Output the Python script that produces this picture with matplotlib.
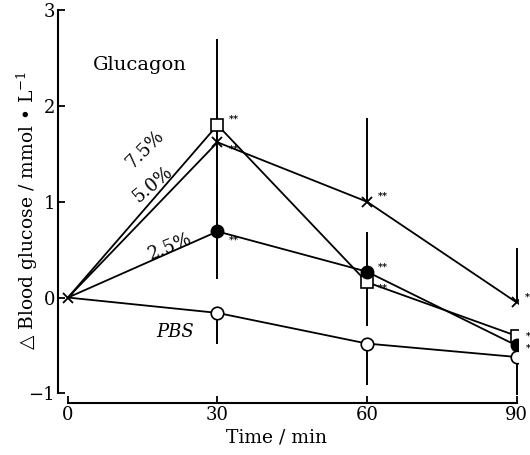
import matplotlib
matplotlib.use("Agg")
import matplotlib.pyplot as plt
import numpy as np

plt.rcParams['font.family'] = ['DejaVu Serif', 'DejaVu Sans']
plt.rcParams['mathtext.fontset'] = 'dejavuserif'

time = [0, 30, 60, 90]
g75 = [0, 1.80, 0.16, -0.40]
g75_lo = [0, 0.90, 0.46, 0]
g75_hi = [0, 0.90, 0, 0]
g50 = [0, 1.62, 1.00, -0.05]
g50_lo = [0, 0, 0, 0]
g50_hi = [0, 0, 0.87, 0.57]
g25 = [0, 0.69, 0.27, -0.50]
g25_lo = [0, 0.50, 0, 0]
g25_hi = [0, 0.50, 0.41, 0]
pbs = [0, -0.16, -0.48, -0.62]
pbs_lo = [0, 0.32, 0.43, 0.40]
pbs_hi = [0, 0, 0, 0]

xticks = [0, 30, 60, 90]
yticks = [-1, 0, 1, 2, 3]
xtick_labels = ['0', '30', '60', '90']
ytick_labels = ['\u22121', '0', '1', '2', '3']

series_labels = ['7.5%', '5.0%', '2.5%', 'PBS']
stars = {
    '7.5%': ['', '**', '**', '*'],
    '5.0%': ['', '**', '**', '*'],
    '2.5%': ['', '**', '**', '*'],
}

fig = plt.figure(figsize=(5.3, 4.55), dpi=100)
ax = fig.add_axes([58/530, 52/455, (518-58)/530, (455-52-10)/455])

lw = 1.3
ebkw = dict(ecolor='black', elinewidth=1.4, capsize=0, linestyle='none', marker='none')

for y, lo, hi in [(g75, g75_lo, g75_hi), (g50, g50_lo, g50_hi),
                  (g25, g25_lo, g25_hi), (pbs, pbs_lo, pbs_hi)]:
    ax.errorbar(time, y, yerr=[lo, hi], zorder=2, **ebkw)

ax.plot(time, g75, color='black', lw=lw, marker='s', ms=8, mfc='white', mec='black',
        mew=1.2, markevery=[1, 2, 3], zorder=3)
ax.plot(time, g50, color='black', lw=lw, marker='x', ms=7, mec='black', mew=1.3, zorder=3)
ax.plot(time, g25, color='black', lw=lw, marker='o', ms=9, mfc='black', mec='black',
        markevery=[1, 2, 3], zorder=3)
ax.plot(time, pbs, color='black', lw=lw, marker='o', ms=9, mfc='white', mec='black',
        mew=1.2, markevery=[1, 2, 3], zorder=3)

# significance marks
star_offsets = {
    '7.5%': [(0, 0), (8, 4), (8, -4), (7, 0)],
    '5.0%': [(0, 0), (8, -5), (8, 4), (6, 4)],
    '2.5%': [(0, 0), (8, -6), (8, 3), (7, -2)],
}
for name, y in [('7.5%', g75), ('5.0%', g50), ('2.5%', g25)]:
    for i, t in enumerate(time):
        s = stars[name][i]
        if s:
            dx, dy = star_offsets[name][i]
            ax.annotate(s, (t, y[i]), xytext=(dx, dy), textcoords='offset points',
                        fontsize=7, fontweight='bold', ha='left', va='center')

ax.text(14.5, 2.43, 'Glucagon', fontsize=14, ha='center', va='center')
ax.text(15.5, 1.55, series_labels[0], fontsize=13, rotation=45, ha='center', va='center')
ax.text(17.0, 1.18, series_labels[1], fontsize=13, rotation=40, ha='center', va='center')
ax.text(20.5, 0.53, series_labels[2], fontsize=13, rotation=22, ha='center', va='center')
ax.text(21.5, -0.36, series_labels[3], fontsize=13, style='italic', ha='center', va='center')

ax.set_xlim(-2, 90.3)
ax.set_ylim(-1.1, 3.0)
ax.set_xticks(xticks)
ax.set_xticklabels(xtick_labels)
ax.set_yticks(yticks)
ax.set_yticklabels(ytick_labels)
ax.spines['top'].set_visible(False)
ax.spines['right'].set_visible(False)
ax.spines['left'].set_bounds(-1, 3)
ax.spines['bottom'].set_bounds(0, 90)
for sp in ('left', 'bottom'):
    ax.spines[sp].set_linewidth(1.5)
ax.tick_params(direction='in', length=5, width=1.3, labelsize=13, pad=2)

ax.set_xlabel('Time / min', fontsize=13.5)
ax.set_ylabel('\u25b3 Blood glucose / mmol \u2022 L$^{-1}$', fontsize=13.5)
ax.xaxis.set_label_coords(0.474, -0.065)
ax.yaxis.set_label_coords(-0.04, 0.49)

fig.savefig('out.png', dpi=100)
